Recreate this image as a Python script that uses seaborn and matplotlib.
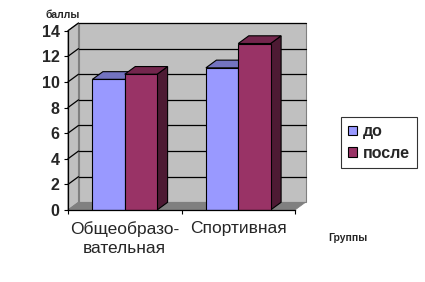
import matplotlib
matplotlib.use("Agg")
import matplotlib.pyplot as plt
from matplotlib.patches import Polygon, Patch
import seaborn as sns
import pandas as pd

groups = ["Общеобразо-\nвательная", "Спортивная"]
before = [10.2, 11.1]
after = [10.6, 13.0]
series = ["до", "после"]
yticks = [0, 2, 4, 6, 8, 10, 12, 14]

front_colors = {"до": "#9999FF", "после": "#993366"}
top_colors = {"до": "#7373C0", "после": "#73264D"}
side_colors = {"до": "#4D4D80", "после": "#4D1A33"}

df = pd.DataFrame({
    "group": groups * 2,
    "period": [series[0]] * 2 + [series[1]] * 2,
    "value": before + after,
})

sns.set_style("white")
plt.rcParams["font.family"] = ["Liberation Sans", "DejaVu Sans"]

W, H = 425, 282
fig = plt.figure(figsize=(W / 100, H / 100), dpi=100)
ax = fig.add_axes([68 / W, 1 - 210 / H, (295 - 68) / W, (210 - 30.7) / H])
ax.patch.set_visible(False)

sns.barplot(data=df, x="group", y="value", hue="period", order=groups,
            hue_order=series, palette=[front_colors[s] for s in series],
            width=0.57, saturation=1, edgecolor="black", linewidth=0.8,
            legend=False, ax=ax, zorder=3, errorbar=None)

ax.set_xlim(-0.5, 1.5)
ax.set_ylim(0, 14)

# depth offsets (pixels -> data)
depth_x_px, depth_y_px = 10.5, 7.7
ax_w = (295 - 68)
ax_h = (210 - 30.7)
dx = depth_x_px * 2.0 / ax_w
dy = depth_y_px * 14.0 / ax_h
x0, x1 = -0.5, 1.5

# walls
back = Polygon([(x0 + dx, dy), (x1 + dx, dy), (x1 + dx, 14 + dy), (x0 + dx, 14 + dy)],
               closed=True, facecolor="#C0C0C0", edgecolor="#808080", lw=0.8,
               clip_on=False, zorder=0.5)
left = Polygon([(x0, 0), (x0 + dx, dy), (x0 + dx, 14 + dy), (x0, 14)],
               closed=True, facecolor="#C0C0C0", edgecolor="#808080", lw=0.8,
               clip_on=False, zorder=0.5)
floor = Polygon([(x0, 0), (x1, 0), (x1 + dx, dy), (x0 + dx, dy)],
                closed=True, facecolor="#808080", edgecolor="#808080", lw=0.5,
                clip_on=False, zorder=0.6)
for p in (back, left, floor):
    ax.add_patch(p)
for yv in yticks[1:]:
    ax.plot([x0 + dx, x1 + dx], [yv + dy, yv + dy], color="black", lw=0.9,
            clip_on=False, zorder=0.8)
    ax.plot([x0, x0 + dx], [yv, yv + dy], color="black", lw=0.9,
            clip_on=False, zorder=0.8)

# 3D faces for bars
bars = sorted([p for p in ax.patches if hasattr(p, "get_width") and p.get_height() > 0
               and p not in (back, left, floor)], key=lambda p: p.get_x())
hue_for_bar = []
for p in bars:
    fc = matplotlib.colors.to_hex(p.get_facecolor())
    hue_for_bar.append("до" if fc.lower() == front_colors["до"].lower() else "после")
for k, (p, hue) in enumerate(zip(bars, hue_for_bar)):
    bx, bw, bh = p.get_x(), p.get_width(), p.get_height()
    z = 3 + k
    p.set_zorder(z + 0.5)
    side = Polygon([(bx + bw, 0), (bx + bw + dx, dy), (bx + bw + dx, bh + dy), (bx + bw, bh)],
                   closed=True, facecolor=side_colors[hue], edgecolor="black", lw=0.8,
                   zorder=z, clip_on=False)
    top = Polygon([(bx, bh), (bx + bw, bh), (bx + bw + dx, bh + dy), (bx + dx, bh + dy)],
                  closed=True, facecolor=top_colors[hue], edgecolor="black", lw=0.8,
                  zorder=z, clip_on=False)
    ax.add_patch(side)
    ax.add_patch(top)

# axes styling
for s in ("top", "right"):
    ax.spines[s].set_visible(False)
for s in ("left", "bottom"):
    ax.spines[s].set_color("black")
    ax.spines[s].set_linewidth(0.9)
    ax.spines[s].set_zorder(20)

ax.set_yticks(yticks)
ax.set_yticklabels([str(v) for v in yticks], fontsize=11.5, fontweight="bold")
ax.tick_params(axis="y", length=3, width=0.8, color="black", pad=3, left=True)

ax.set_xticks([-0.5, 0.5, 1.5])
ax.set_xticklabels([])
ax.set_xticks([0, 1], minor=True)
ax.set_xticklabels(groups, minor=True, fontsize=12.5, linespacing=1.35)
ax.tick_params(axis="x", which="major", length=3, width=0.8, color="black", bottom=True)
ax.tick_params(axis="x", which="minor", length=0, pad=8)
ax.set_xlabel("")
ax.set_ylabel("")

fig.text(45 / W, 1 - 18 / H, "баллы", fontsize=7.5, fontweight="bold", ha="left", va="baseline")
fig.text(328 / W, 1 - 241 / H, "Группы", fontsize=7.5, fontweight="bold", ha="left", va="baseline")

handles = [Patch(facecolor=front_colors[s], edgecolor="black", lw=0.8, label=s) for s in series]
leg = fig.legend(handles=handles, loc="upper left", bbox_to_anchor=(341 / W, 1 - 117 / H),
                 frameon=True, fancybox=False, prop={"size": 11.5, "weight": "bold"},
                 handlelength=0.55, handleheight=0.55, handletextpad=0.35,
                 borderpad=0.45, labelspacing=0.4, borderaxespad=0)
leg.get_frame().set_edgecolor("black")
leg.get_frame().set_linewidth(0.8)

fig.savefig("out.png", dpi=100, facecolor="white")
